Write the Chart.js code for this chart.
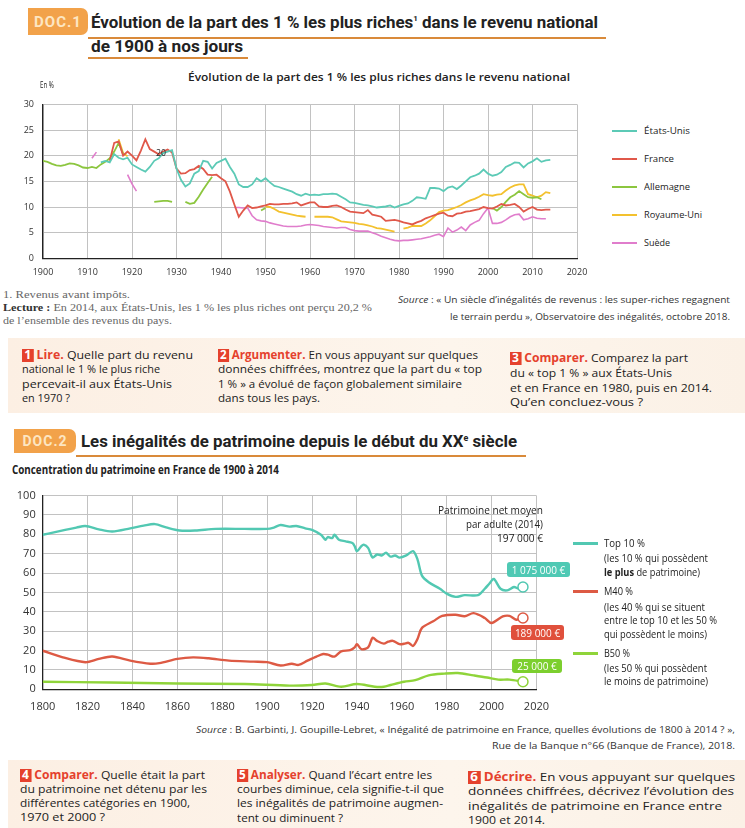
<!DOCTYPE html>
<html><head><meta charset="utf-8">
<script src="https://cdn.jsdelivr.net/npm/chart.js@4.4.0/dist/chart.umd.min.js"></script>
<style>
html,body{margin:0;padding:0;background:#fff;}
body{width:745px;height:828px;position:relative;overflow:hidden;font-family:"Open Sans",sans-serif;color:#222;}
.t{position:absolute;white-space:nowrap;line-height:1.2;transform-origin:0 50%;}
.bx{position:absolute;}
canvas{position:absolute;}
.n{display:inline-block;background:#e5412d;color:#fff;font-weight:700;padding:0 2px;margin-right:3px;line-height:1.1}
.r{color:#e5412d;font-weight:700}
.tag{position:absolute;background:#f2a24a;color:#fde6c2;font-weight:700;font-family:Roboto,sans-serif;display:flex;align-items:center;justify-content:center;border-radius:0 7px 7px 0;letter-spacing:1px}
.lb{position:absolute;color:#fff;font-size:10px;border-radius:3px;display:flex;align-items:center;justify-content:center;font-family:"Open Sans",sans-serif}
</style></head><body>
<div class="tag" style="left:28px;top:8px;width:60px;height:27px;font-size:15px">DOC.1</div>
<div class="bx" style="left:88px;top:37px;width:518px;height:1.5px;background:#d98a3a"></div>
<div class="bx" style="left:88px;top:57px;width:160px;height:1.5px;background:#d98a3a"></div>
<div class="tag" style="left:14px;top:429px;width:62px;height:24px;font-size:14px">DOC.2</div>
<div class="bx" style="left:76px;top:455px;width:450px;height:1.5px;background:#d98a3a"></div>
<div class="bx" style="left:8px;top:338px;width:737px;height:75px;background:linear-gradient(90deg,#fcefe3,#fdf5ec 60%,#fbf1e6)"></div>
<div class="bx" style="left:8px;top:760px;width:737px;height:68px;background:linear-gradient(90deg,#fcefe3,#fdf5ec 60%,#fbf1e6)"></div>
<canvas id="c1" width="600" height="195" style="left:0;top:90px;width:600px;height:195px"></canvas>
<canvas id="c2" width="560" height="240" style="left:0;top:482px;width:560px;height:240px"></canvas>
<div id="txt"></div>
<script>
// ---------- DATA: chart 1 (share of top 1 %, %) ----------
const years1 = [1900,1901,1902,1903,1904,1905,1906,1907,1908,1909,
1910,1911,1912,1913,1914,1915,1916,1917,1918,1919,
1920,1921,1922,1923,1924,1925,1926,1927,1928,1929,
1930,1931,1932,1933,1934,1935,1936,1937,1938,1939,
1940,1941,1942,1943,1944,1945,1946,1947,1948,1949,
1950,1951,1952,1953,1954,1955,1956,1957,1958,1959,
1960,1961,1962,1963,1964,1965,1966,1967,1968,1969,
1970,1971,1972,1973,1974,1975,1976,1977,1978,1979,
1980,1981,1982,1983,1984,1985,1986,1987,1988,1989,
1990,1991,1992,1993,1994,1995,1996,1997,1998,1999,
2000,2001,2002,2003,2004,2005,2006,2007,2008,2009,
2010,2011,2012,2013,2014];
const N=null;
const usValues = [N,N,N,N,N,N,N,N,N,N,
N,N,N,18.7,19,18.7,20.3,19.6,19.3,19.6,
18.3,17.8,17.3,16.9,17.8,19,19.5,20.5,20.8,21.1,
17.5,15.3,14,14.6,16.5,17,19,18.8,17.5,18.6,
19,19.4,17.8,16.5,14.4,13.9,13.9,14.4,15.6,15,
15.6,14.8,14.1,13.9,13.6,13.3,13,12.5,12.2,12.6,
12.3,12.4,12.3,12.5,12.5,12.6,12.5,12,11.5,10.9,
10.8,10.6,10.4,10.3,10.1,9.9,10,10.1,10.3,9.9,
10.2,10.5,10.7,11.2,11.9,11.8,11.6,13.7,13.7,13.6,
13.1,13.8,14,13.5,14.2,15,15.8,16.1,16.5,17.3,
16.5,16.1,16.3,16.8,17.8,18.2,18.7,18.6,17.7,18.5,
18.9,19.5,18.8,19.1,19.2];
const franceValues = [N,N,N,N,N,N,N,N,N,N,
N,N,N,N,N,19,22.5,22.8,20,20.8,
20,19.1,21,23.2,21.3,20.8,20.3,20.8,21.2,20.6,
17.5,16.5,16.6,17.2,17.4,18,17.4,16.3,16.2,16.3,
15.6,15,13,10.5,8.1,9.3,10.3,9.8,9.9,10.1,
10.3,10.6,10.5,10.5,10.6,10.6,10.7,10.9,10.3,10.6,
10.9,10.9,10.1,10,10,10.2,10.3,10,9.5,9.1,
9,8.9,8.8,9.4,8.5,8.3,8.1,7.3,7.4,7.5,
7.3,7,6.8,6.6,7,7.3,7.8,8.1,8.4,8.7,
8.9,8.3,8.2,8.7,8.8,9.1,9.2,9.4,9.6,10,
9.8,9.7,10.1,10.6,10.3,10.4,10.6,10,9.1,9.6,
10,9.5,9.4,9.5,9.5];
const germanyValues = [19,18.8,18.4,18.1,18,18.2,18.5,18.4,18.1,17.7,
17.6,17.8,17.6,18.3,18.8,19.5,20.8,22.5,20.3,N,
N,N,N,N,N,11,11.1,11.2,11.2,11,
N,N,11,10.6,10.8,12,13.4,14.7,15.9,N,
N,N,N,N,N,N,N,N,N,9.3,
9.8,N,N,N,N,N,N,N,N,N,
N,N,N,N,N,N,N,N,N,N,
N,N,N,N,N,N,N,N,N,N,
N,N,N,N,N,N,N,N,N,N,
N,N,N,N,N,N,N,N,N,N,
N,9.8,9.3,10,11,11.9,12.4,13.1,12.5,11.9,
11.8,11.9,11.5,N,N];
const ukValues = [N,N,N,N,N,N,N,N,N,N,
N,N,N,N,N,N,N,23.2,20.5,19.9,
N,N,N,N,N,N,N,N,N,N,
N,N,N,N,N,N,N,N,N,N,
N,N,N,N,N,N,N,N,N,N,
10.1,10,9.6,9.1,8.9,8.7,8.5,8.3,8.2,8.1,
N,8.1,8.1,8.1,8.1,8,7.6,7.2,7.1,7,
6.9,6.7,6.6,6.4,6.2,5.9,5.8,5.6,5.4,5.2,
N,5.8,6,6.3,6.3,6.3,6.8,7.4,8.2,9,
9.3,9.4,9.7,10,10.4,10.9,11.3,11.6,12,12.5,
12.3,12.2,12.4,12.5,13.2,13.8,14.2,14.4,14.4,12.5,
12.2,11.9,12.2,12.9,12.7];
const swedenValues = [N,N,N,N,N,N,N,N,N,N,
N,19.5,20.7,N,N,N,N,N,N,16.3,
14.5,13.1,N,N,N,N,N,N,N,N,
N,N,N,N,N,N,N,N,N,N,
N,N,N,9.9,9.9,9.8,9.8,8.3,7.5,7.3,
7.2,6.9,6.7,6.5,6.3,6.2,6.2,6.2,6.3,6.5,
6.6,6.5,6.4,6.2,6.1,6,5.9,6,6,5.6,
5.4,5.3,5.3,5.3,5,4.7,4.3,4,3.7,3.5,
3.4,3.5,3.5,3.6,3.7,3.8,4,4.2,4.5,4.7,
4.2,5.9,5.1,5.5,6.1,5.4,6.5,7,7.4,8.7,
9.8,6.8,6.8,7,7.5,8.1,8.5,8.6,7.5,7.7,
8.1,7.8,7.7,7.7,N];
const xTicks1 = ['1900','1910','1920','1930','1940','1950','1960','1970','1980','1990','2000','2010','2020'];
const yTicks1 = ['0','5','10','15','20','25','30'];

// ---------- DATA: chart 2 (wealth shares, %) ----------
const top10Years = [1800,1805,1810,1815,1819,1825,1831,1839,1845,1850,1855,1861,1868,1877,1890,1900,1903,1906,1910,1913,1917,1920,1924,1926,1927,1929,1930,1932,1935,1938,1939,1940,1942,1943,1945,1947,1949,1951,1953,1955,1957,1959,1962,1965,1967,1969,1972,1977,1980,1984,1988,1994,1997,1999,2001,2004,2007,2010,2012,2014];
const top10Values = [79.8,81,82.3,83.5,84.3,82.6,81.5,83.1,84.5,85.3,83.6,82,82,82.8,82.8,82.8,83.5,84.8,84,84.3,83.1,82.3,79.8,77.2,78.6,78.1,79.8,77.2,76.4,75.5,73.9,71.3,73.9,74.7,73,68,69.6,69.1,70.5,68.5,69.1,68,69.1,71.3,67.1,58.7,55.3,51.9,49.4,47.7,48.6,48.6,51.9,54.5,57,51.9,51.1,52.8,52,52.8];
const m40Years = [1800,1809,1819,1825,1831,1839,1848,1852,1860,1867,1874,1883,1894,1900,1906,1911,1914,1918,1922,1925,1927,1930,1933,1937,1939,1940,1942,1945,1947,1949,1952,1954,1956,1959,1961,1963,1965,1967,1969,1974,1978,1984,1988,1992,1997,2000,2005,2008,2011,2014];
const m40Values = [19.9,16.5,14,15.7,16.9,14.8,13.2,13.5,15.7,16.5,16,14.8,14.3,14,12.3,13.2,12.6,14.8,16.9,18.2,17.9,16.9,19.6,20.2,21.6,23.3,20.7,21.6,26.6,25,23.6,24.6,25,23.3,23.5,24,22.4,26,31.7,35.1,37.9,38.5,37.7,39.3,36.8,34.2,37.6,37.9,35.9,36.8];
const b50Years = [1800,1830,1860,1890,1910,1920,1926,1933,1940,1948,1952,1955,1961,1966,1972,1979,1985,1992,1998,2003,2008,2014];
const b50Values = [3.9,3.5,3,2.7,1.9,2.2,3,1.3,2.7,1.3,1.3,2.2,3.9,4.7,7.2,8.1,8.4,7.2,6.1,5,5,3.9];
const xTicks2 = ['1800','1820','1840','1860','1880','1900','1920','1940','1960','1980','2000','2020'];
const yTicks2 = ['0','10','20','30','40','50','60','70','80','90','100'];

// ---------- colours ----------
const C_US='#5ccab6', C_FR='#e0584a', C_DE='#8cc63f', C_UK='#f3c12e', C_SE='#e07dcc';
const C_T10='#52c8b2', C_M40='#dd5a44', C_B50='#8fd43a';

function pts(xs, vs){ return xs.map((x,i)=>({x:x, y:vs[i]})); }

const GRID = {display:true, drawOnChartArea:true, drawTicks:false, color:'#c2c2c2', lineWidth:1};
const BORDER = {display:true, color:'#222', width:1.3};
function axisX(ticks, min, max, fs, pad, h){
  return {type:'linear', min:min, max:max,
    afterBuildTicks:s=>{ s.ticks = ticks.map(v=>({value:+v})); },
    ticks:{callback:v=>String(v), font:{size:fs,family:'"Open Sans"'}, color:'#333', padding:pad, maxRotation:0, autoSkip:false},
    grid:GRID, border:BORDER,
    afterFit:s=>{ s.height=h; }};
}
function axisY(ticks, min, max, fs, pad, w){
  return {type:'linear', min:min, max:max,
    afterBuildTicks:s=>{ s.ticks = ticks.map(v=>({value:+v})); },
    ticks:{callback:v=>String(v), font:{size:fs,family:'"Open Sans"'}, color:'#333', padding:pad, autoSkip:false},
    grid:GRID, border:BORDER,
    afterFit:s=>{ s.width=w; }};
}
function ds(label, data, color, w){
  return {label:label, data:data, borderColor:color, backgroundColor:color, borderWidth:w, pointRadius:0, spanGaps:false};
}

new Chart(document.getElementById('c1'), {
  type:'line',
  data:{datasets:[
    ds('États-Unis', pts(years1, usValues), C_US, 1.8),
    ds('France', pts(years1, franceValues), C_FR, 1.8),
    ds('Allemagne', pts(years1, germanyValues), C_DE, 1.8),
    ds('Royaume-Uni', pts(years1, ukValues), C_UK, 1.8),
    ds('Suède', pts(years1, swedenValues), C_SE, 1.6)
  ]},
  options:{responsive:false, animation:false,
    layout:{padding:{top:8.3,right:23,left:0,bottom:0}},
    plugins:{legend:{display:false}, tooltip:{enabled:false}},
    elements:{line:{tension:0}},
    scales:{x:axisX(xTicks1,1900,2020,9,9,26.7), y:axisY(yTicks1,0,30,9,9,43)}
  }
});

function endDot(n){ return ctx => ctx.dataIndex === n-1 ? 5 : 0; }
function ds2(label, xs, vs, color){
  return {label:label, data:pts(xs, vs), borderColor:color, borderWidth:2.4, tension:0.3,
    pointRadius:endDot(xs.length), pointBackgroundColor:'#fff', pointBorderColor:color, pointBorderWidth:1.5};
}
new Chart(document.getElementById('c2'), {
  type:'line',
  data:{datasets:[
    ds2('Top 10 %', top10Years, top10Values, C_T10),
    ds2('M40 %', m40Years, m40Values, C_M40),
    ds2('B50 %', b50Years, b50Values, C_B50)
  ]},
  options:{responsive:false, animation:false,
    layout:{padding:{top:9.7,right:10,left:0,bottom:0}},
    plugins:{legend:{display:false}, tooltip:{enabled:false}},
    scales:{x:axisX(xTicks2,1800,2020,11,11,32.7), y:axisY(yTicks2,0,100,11,7,42.7)}
  }
});

// ---------- texts ----------
const SERIF='"Liberation Serif",serif';
const T = [
 [91,22,507,17,'Évolution de la part des 1 % les plus riches<span style="font-size:8px;vertical-align:7px">1</span> dans le revenu national',{b:700,f:'Roboto'}],
 [91,46,152,17,'de 1900 à nos jours',{b:700,f:'Roboto'}],
 [188,77,382,11,'Évolution de la part des 1 % les plus riches dans le revenu national',{b:600}],
 [40,85,14,9,'En %',{}],
 [156,153,10,9,'20',{}],
 [644,131,46,9.5,'États-Unis',{}],
 [644,159,30,9.5,'France',{}],
 [644,187,46,9.5,'Allemagne',{}],
 [644,215,58,9.5,'Royaume-Uni',{}],
 [644,243,26,9.5,'Suède',{}],
 [3,296,127,9.5,'1. Revenus avant impôts.',{f:SERIF,c:'#666'}],
 [3,309,369,9.5,'<b style="color:#333">Lecture :</b> En 2014, aux États-Unis, les 1 % les plus riches ont perçu 20,2 %',{f:SERIF,c:'#666'}],
 [3,322,169,9.5,'de l’ensemble des revenus du pays.',{f:SERIF,c:'#666'}],
 [730,300,332,9,'<i>Source</i> : « Un siècle d’inégalités de revenus : les super-riches regagnent',{r:1,c:'#333'}],
 [730,317,280,9,'le terrain perdu », Observatoire des inégalités, octobre 2018.',{r:1,c:'#333'}],
 [22,355,171,11.5,'<span class="n">1</span><span class="r">Lire.</span> Quelle part du revenu',{}],
 [22,369,138,11.5,'national le 1 % le plus riche',{}],
 [22,384,150,11.5,'percevait-il aux États-Unis',{}],
 [22,398,48,11.5,'en 1970 ?',{}],
 [218,355,260,11.5,'<span class="n">2</span><span class="r">Argumenter.</span> En vous appuyant sur quelques',{}],
 [218,369,264,11.5,'données chiffrées, montrez que la part du « top',{}],
 [218,384,244,11.5,'1 % » a évolué de façon globalement similaire',{}],
 [218,398,102,11.5,'dans tous les pays.',{}],
 [510,358,178,11.5,'<span class="n">3</span><span class="r">Comparer.</span> Comparez la part',{}],
 [510,373,162,11.5,'du « top 1 % » aux États-Unis',{}],
 [510,388,202,11.5,'et en France en 1980, puis en 2014.',{}],
 [510,402,133,11.5,'Qu’en concluez-vous ?',{}],
 [81,441,436,17,'Les inégalités de patrimoine depuis le début du XX<span style="font-size:9px;vertical-align:6px">e</span> siècle',{b:700,f:'Roboto'}],
 [12,470,267,11.5,'Concentration du patrimoine en France de 1900 à 2014',{b:700}],
 [543,510,105,10,'Patrimoine net moyen',{r:1}],
 [543,524,77,10,'par adulte (2014)',{r:1}],
 [543,538,46,10,'197 000 €',{r:1}],
 [604,543,41,10.5,'Top 10 %',{}],
 [604,558,104,10.5,'(les 10 % qui possèdent',{}],
 [604,572,96,10.5,'<b>le plus</b> de patrimoine)',{}],
 [604,591,29,10.5,'M40 %',{}],
 [604,607,101,10.5,'(les 40 % qui se situent',{}],
 [604,620,113,10.5,'entre le top 10 et les 50 %',{}],
 [604,634,103,10.5,'qui possèdent le moins)',{}],
 [604,653,26,10.5,'B50 %',{}],
 [604,668,103,10.5,'(les 50 % qui possèdent',{}],
 [604,681,104,10.5,'le moins de patrimoine)',{}],
 [735,730,539,9,'<i>Source</i> : B. Garbinti, J. Goupille-Lebret, « Inégalité de patrimoine en France, quelles évolutions de 1800 à 2014 ? »,',{r:1,c:'#333'}],
 [735,746,243,9,'Rue de la Banque n°66 (Banque de France), 2018.',{r:1,c:'#333'}],
 [20,775,185,11.5,'<span class="n">4</span><span class="r">Comparer.</span> Quelle était la part',{}],
 [20,789,187,11.5,'du patrimoine net détenu par les',{}],
 [20,803,170,11.5,'différentes catégories en 1900,',{}],
 [20,817,85,11.5,'1970 et 2000 ?',{}],
 [237,775,195,11.5,'<span class="n">5</span><span class="r">Analyser.</span> Quand l’écart entre les',{}],
 [237,789,207,11.5,'courbes diminue, cela signifie-t-il que',{}],
 [237,803,206,11.5,'les inégalités de patrimoine augmen-',{}],
 [237,818,106,11.5,'tent ou diminuent ?',{}],
 [468,777,267,11.5,'<span class="n">6</span><span class="r">Décrire.</span> En vous appuyant sur quelques',{}],
 [468,791,266,11.5,'données chiffrées, décrivez l’évolution des',{}],
 [468,806,254,11.5,'inégalités de patrimoine en France entre',{}],
 [468,820,77,11.5,'1900 et 2014.',{}]
];
const host = document.getElementById('txt');
const els = [];
T.forEach(([x,y,w,s,html,o])=>{
  const d = document.createElement('div');
  d.className='t'; d.innerHTML=html;
  d.style.fontSize=s+'px';
  d.style.top=(y-0.6*s)+'px';
  d.style.left=(o.r? x-w : x)+'px';
  if(o.b) d.style.fontWeight=o.b;
  if(o.f) d.style.fontFamily=o.f;
  if(o.c) d.style.color=o.c;
  host.appendChild(d);
  els.push([d,w]);
});
[[131,C_US],[159,C_FR],[187,C_DE],[215,C_UK],[243,C_SE]].forEach(([y,c])=>{
  const d=document.createElement('div'); d.className='bx';
  d.style.cssText+=`left:612px;top:${y-1}px;width:25px;height:2px;background:${c}`; host.appendChild(d);
});
[[543,C_T10],[591,C_M40],[653,C_B50]].forEach(([y,c])=>{
  const d=document.createElement('div'); d.className='bx';
  d.style.cssText+=`left:573px;top:${y-1}px;width:25px;height:2.5px;background:${c}`; host.appendChild(d);
});
[[507,562,63,15,'#4fc9b4','1 075 000 €'],[511,625,53,15,'#e0503c','189 000 €'],[512,659,50,14,'#7ccf2e','25 000 €']].forEach(([x,y,w,h,c,t])=>{
  const d=document.createElement('div'); d.className='lb';
  d.style.cssText+=`left:${x}px;top:${y}px;width:${w}px;height:${h}px;background:${c}`; d.textContent=t; host.appendChild(d);
});
function fit(){
  els.forEach(([d,w])=>{
    d.style.transform='none';
    const aw=d.getBoundingClientRect().width;
    if(aw>0){ let k=w/aw; k=Math.max(0.6,Math.min(1.5,k)); d.style.transform=`scaleX(${k})`; }
  });
}
fit();
if(document.fonts && document.fonts.ready) document.fonts.ready.then(fit);
</script>
</body></html>
